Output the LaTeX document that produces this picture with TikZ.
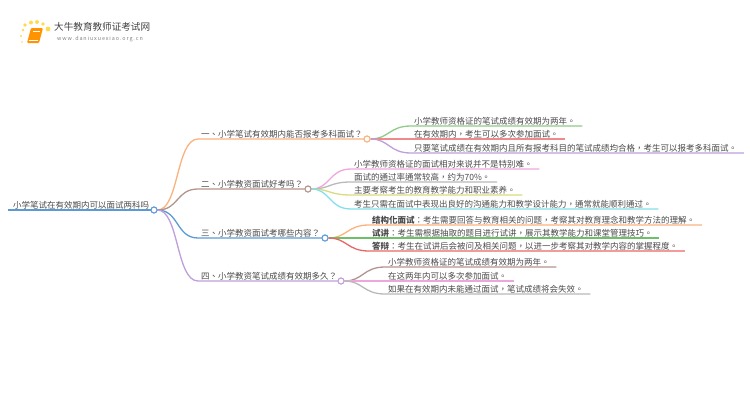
\documentclass[tikz,border=0pt]{standalone}
\usepackage{fontspec}
\setmainfont{Noto Sans CJK TC}
\usepackage{xcolor}
\definecolor{naranja}{HTML}{FBB27C}
\definecolor{marron}{HTML}{B3948C}
\definecolor{azul}{HTML}{5B9BD5}
\definecolor{lila}{HTML}{BE9FDC}
\definecolor{verde}{HTML}{8FCB86}
\definecolor{rojo}{HTML}{F08A8A}
\definecolor{rosa}{HTML}{EFA6DF}
\definecolor{gris}{HTML}{B9B9B9}
\definecolor{amarillo}{HTML}{D8DB7E}
\definecolor{cian}{HTML}{82E0EA}
\definecolor{verdeb}{HTML}{6FBF6A}
\definecolor{rojob}{HTML}{E96666}
\definecolor{texto}{HTML}{4A4A4A}
\tikzset{
  rama/.style={line width=1.3pt},
  hoja/.style={anchor=south west,inner xsep=3pt,inner ysep=0.8pt,text=texto,font=\fontsize{8.5}{9}\selectfont,execute at end node={\hspace{3.5pt}}},
  titulo/.style={hoja,execute at end node={}},
  nudo/.style={circle,draw,fill=white,line width=1pt,minimum size=6pt,inner sep=0pt},
  sol/.style={fill=orange!40!yellow,opacity=0.7}
}
\newcommand{\curva}[3]{\draw[rama,#1] (#2) .. controls +(22,0) and +(-22,0) .. (#3.south west) -- (#3.south east);}
\begin{document}
\begin{tikzpicture}[x=1pt,y=-1pt]
    \useasboundingbox (0,0) rectangle (750,410);

    % Logo
    \foreach \a/\b/\r in {23/30/1.4,25/25/1.8,31/22.5/2,37/22/2,43/24/1.8,48/29/2.4,21/36/1.1,22/42/0.9}
      \fill[sol] (\a,\b) circle (\r);
    \fill[orange!85!yellow,rounded corners=1pt] (31,28) -- (43,28) -- (39,43) -- (27,43) -- cycle;
    \draw[white,line width=0.5pt] (33,31) -- (40,31);
    \draw[white,line width=0.5pt] (28.5,40) -- (38,40);
    \node[anchor=west,inner sep=0pt,text=black!75,font=\fontsize{9.6}{10}\selectfont] (marca) at (54,27) {大牛教育教师证考试网};
    \node[anchor=west,inner sep=0pt,text=black!50,font=\fontsize{5.4}{6}\selectfont] (web) at (57,39) {w\,w\,w\,.\,d\,a\,n\,i\,u\,x\,u\,e\,x\,i\,a\,o\,.\,o\,r\,g\,.\,c\,n};

    % Raiz
    \node[titulo,inner xsep=5pt] (raiz) at (8,210) {小学笔试在有效期内可以面试两科吗};
    \node[nudo,draw=azul] (c0) at (154,210) {};

    % Ramas principales
    \node[titulo] (t1) at (198,139) {一、小学笔试有效期内能否报考多科面试？};
    \node[titulo] (t2) at (198,189) {二、小学教资面试好考吗？};
    \node[titulo] (t3) at (198,238) {三、小学教资面试考哪些内容？};
    \node[titulo] (t4) at (198,281) {四、小学教资笔试成绩有效期多久？};
    \node[nudo,draw=naranja] (c1) at (367,139) {};
    \node[nudo,draw=marron] (c2) at (308,189) {};
    \node[nudo,draw=azul] (c3) at (325,238) {};
    \node[nudo,draw=lila] (c4) at (341,281) {};

    \draw[rama,azul] (raiz.south west) -- (c0);
    \draw[rama,naranja] (c0) .. controls +(25,0) and +(-22,0) .. (t1.south west) -- (c1);
    \draw[rama,marron] (c0) .. controls +(25,0) and +(-22,0) .. (t2.south west) -- (c2);
    \draw[rama,azul] (c0) .. controls +(25,0) and +(-22,0) .. (t3.south west) -- (c3);
    \draw[rama,lila] (c0) .. controls +(25,0) and +(-22,0) .. (t4.south west) -- (c4);

    % Hojas de la primera rama
    \node[hoja] (h11) at (411,126) {小学教师资格证的笔试成绩有效期为两年。};
    \node[hoja] (h12) at (411,139) {在有效期内，考生可以多次参加面试。};
    \node[hoja] (h13) at (411,153) {只要笔试成绩在有效期内且所有报考科目的笔试成绩均合格，考生可以报考多科面试。};
    \curva{verde}{c1}{h11}
    \curva{rojo}{c1}{h12}
    \curva{lila}{c1}{h13}

    % Hojas de la segunda rama
    \node[hoja] (h21) at (351,169) {小学教师资格证的面试相对来说并不是特别难。};
    \node[hoja] (h22) at (351,182) {面试的通过率通常较高，约为70\%。};
    \node[hoja] (h23) at (351,195) {主要考察考生的教育教学能力和职业素养。};
    \node[hoja] (h24) at (351,209) {考生只需在面试中表现出良好的沟通能力和教学设计能力，通常就能顺利通过。};
    \curva{rosa}{c2}{h21}
    \curva{gris}{c2}{h22}
    \curva{amarillo}{c2}{h23}
    \curva{cian}{c2}{h24}

    % Hojas de la tercera rama
    \node[hoja] (h31) at (369,225) {\textbf{结构化面试}：考生需要回答与教育相关的问题，考察其对教育理念和教学方法的理解。};
    \node[hoja] (h32) at (369,238) {\textbf{试讲}：考生需根据抽取的题目进行试讲，展示其教学能力和课堂管理技巧。};
    \node[hoja] (h33) at (369,251) {\textbf{答辩}：考生在试讲后会被问及相关问题，以进一步考察其对教学内容的掌握程度。};
    \curva{naranja}{c3}{h31}
    \curva{verdeb}{c3}{h32}
    \curva{rojob}{c3}{h33}

    % Hojas de la cuarta rama
    \node[hoja] (h41) at (385,267) {小学教师资格证的笔试成绩有效期为两年。};
    \node[hoja] (h42) at (385,281) {在这两年内可以多次参加面试。};
    \node[hoja] (h43) at (385,294) {如果在有效期内未能通过面试，笔试成绩将会失效。};
    \curva{marron}{c4}{h41}
    \curva{rosa}{c4}{h42}
    \curva{gris}{c4}{h43}

    % Nudos encima de las lineas
    \node[nudo,draw=azul] at (c0) {};
    \node[nudo,draw=naranja] at (c1) {};
    \node[nudo,draw=marron] at (c2) {};
    \node[nudo,draw=azul] at (c3) {};
    \node[nudo,draw=lila] at (c4) {};
\end{tikzpicture}
\end{document}
